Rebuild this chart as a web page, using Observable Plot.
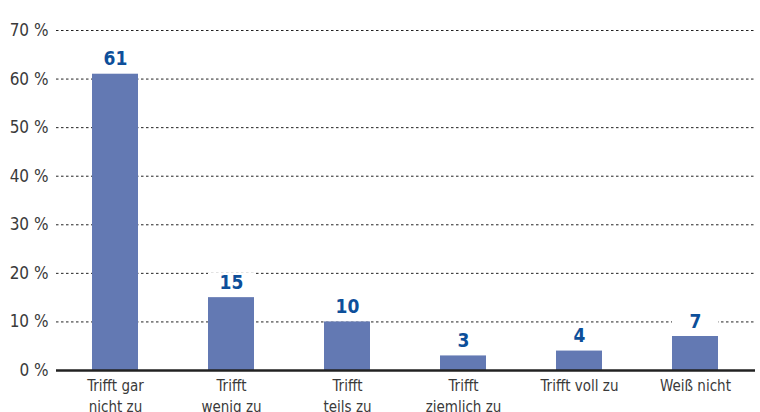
<!DOCTYPE html>
<html>
<head>
<meta charset="utf-8">
<script src="https://cdn.jsdelivr.net/npm/d3@7"></script>
<script src="https://cdn.jsdelivr.net/npm/@observablehq/plot@0.6"></script>
<style>
  html, body { margin: 0; padding: 0; background: #fff; }
  #chart { width: 760px; height: 412px; overflow: hidden; }
  svg { font-family: "Liberation Sans Narrow", "DejaVu Sans Condensed", "Roboto", sans-serif; }
</style>
</head>
<body>
<div id="chart"></div>
<script>
const categories = ["Trifft gar\nnicht zu", "Trifft\nwenig zu", "Trifft\nteils zu", "Trifft\nziemlich zu", "Trifft voll zu", "Weiß nicht"];
const values = [61, 15, 10, 3, 4, 7];
const yTicks = [0, 10, 20, 30, 40, 50, 60, 70];

const data = categories.map((c, i) => ({category: c, value: values[i]}));

const chart = Plot.plot({
  width: 760,
  height: 412,
  marginLeft: 56,
  marginRight: 5,
  marginTop: 30,
  marginBottom: 42,
  style: {fontFamily: '"Liberation Sans Narrow", "DejaVu Sans Condensed", Roboto, sans-serif', background: "#fff"},
  x: {domain: categories, padding: 0.6, paddingOuter: 0.3, label: null},
  y: {domain: [0, 70], label: null},
  marks: [
    Plot.ruleY(yTicks.filter(d => d > 0), {stroke: "#222", strokeWidth: 1, strokeDasharray: "2.5,2.5"}),
    Plot.barY(data, {x: "category", y1: "value", y2: d => d.value + 5, fill: "#fff"}),
    Plot.barY(data, {x: "category", y: "value", fill: "#6379b3"}),
    Plot.ruleY([0], {stroke: "#222", strokeWidth: 2.5}),
    Plot.text(data, {x: "category", y: "value", text: d => String(d.value), lineAnchor: "bottom", dy: -9, fill: "#0d4f9a", fontSize: 19, fontWeight: "bold"}),
    Plot.axisY({ticks: yTicks, tickFormat: d => d + " %", tickSize: 0, tickPadding: 8, fontSize: 17, fill: "#3a3a3a", stroke: null}),
    Plot.axisX({tickSize: 0, tickPadding: 6, fontSize: 15, fill: "#3a3a3a", lineHeight: 1.4, label: null})
  ]
});
document.getElementById("chart").appendChild(chart);
</script>
</body>
</html>
